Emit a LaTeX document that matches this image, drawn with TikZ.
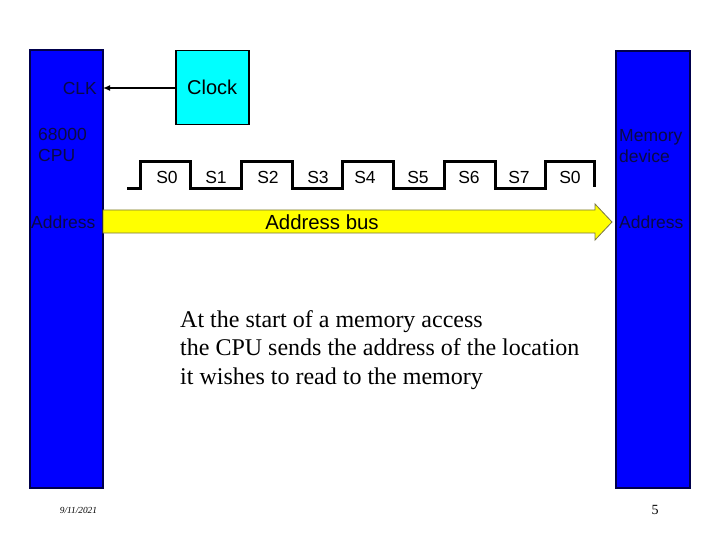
\documentclass[tikz,border=0pt]{standalone}
\usepackage{fontspec}
\setmainfont{Liberation Serif}
\newfontfamily\arial{Liberation Sans}
\usetikzlibrary{arrows.meta,shapes.arrows}
\definecolor{cpublue}{RGB}{0,0,255}
\definecolor{clkcyan}{RGB}{0,255,255}
\definecolor{busyellow}{RGB}{255,255,0}
\definecolor{chipink}{RGB}{10,10,70}
\begin{document}
\begin{tikzpicture}[x=1pt,y=-1pt,
  chip/.style={draw=black!70!blue,line width=1.5pt,fill=cpublue},
  chiptext/.style={font=\arial\fontsize{17.5}{21.5}\selectfont,text=chipink,inner sep=0pt},
  slabel/.style={font=\arial\fontsize{17.5}{20}\selectfont,inner sep=0pt},
  wave/.style={line width=3pt,line join=miter}]
\useasboundingbox (0,0) rectangle (720,540);
\fill[white] (0,0) rectangle (720,540);
% chips
\draw[chip] (30,50) rectangle (103,488);
\coordinate (cpuR) at (103,88);
\draw[chip] (616,51) rectangle (690,488);
% clock box
\node[draw=black,line width=1.5pt,fill=clkcyan,minimum width=73pt,minimum height=74pt,inner sep=0pt,anchor=north west,font=\arial\fontsize{20}{22}\selectfont] (clock) at (175,50) {Clock};
\draw[line width=2pt,-{Latex[length=7pt,width=6pt]}] (clock.west |- cpuR) -- (cpuR);
% CPU texts
\node[chiptext,anchor=east] (clk) at (97,88) {CLK};
\node[chiptext,anchor=north west,align=left] (cpu) at (38,128) {68000\\CPU};
\node[chiptext,anchor=west] (addr1) at (31,222) {Address};
\node[chiptext,anchor=north west,align=left] (mem) at (619,129) {Memory\\device};
\node[chiptext,anchor=west] (addr2) at (619,222) {Address};
% waveform
\draw[wave] (127,189) -- (140,189) -- (140,162) -- (190,162) -- (190,189) -- (241,189) -- (241,162) -- (292,162) -- (292,189) -- (342,189) -- (342,162) -- (393,162) -- (393,189) -- (444,189) -- (444,162) -- (495,162) -- (495,189) -- (545,189) -- (545,162) -- (594,162) -- (594,187);
\foreach \x/\t [count=\i] in {167/S0,216/S1,268/S2,318/S3,365/S4,418/S5,469/S6,519/S7,570/S0}
  \node[slabel] (s\i) at (\x,177) {\t};
% address bus
\fill[busyellow,draw=black!60!yellow,line width=0.8pt] (103,210) -- (595,210) -- (595,204) -- (612,222) -- (595,240) -- (595,233) -- (103,233) -- cycle;
\node[font=\arial\fontsize{20.4}{22}\selectfont,inner sep=0pt] (bus) at (322,222) {Address bus};
% body text
\node[anchor=north west,align=left,inner sep=0pt,font=\fontsize{24}{28.5}\selectfont] (body) at (180,310) {At the start of a memory access\\the CPU sends the address of the location\\it wishes to read to the memory};
% footer
\node[font=\fontsize{9.3}{10}\selectfont\itshape,inner sep=0pt] (date) at (78.5,510) {9/11/2021};
\node[font=\fontsize{14}{16}\selectfont,inner sep=0pt] (page) at (655,510) {5};
\end{tikzpicture}
\end{document}
